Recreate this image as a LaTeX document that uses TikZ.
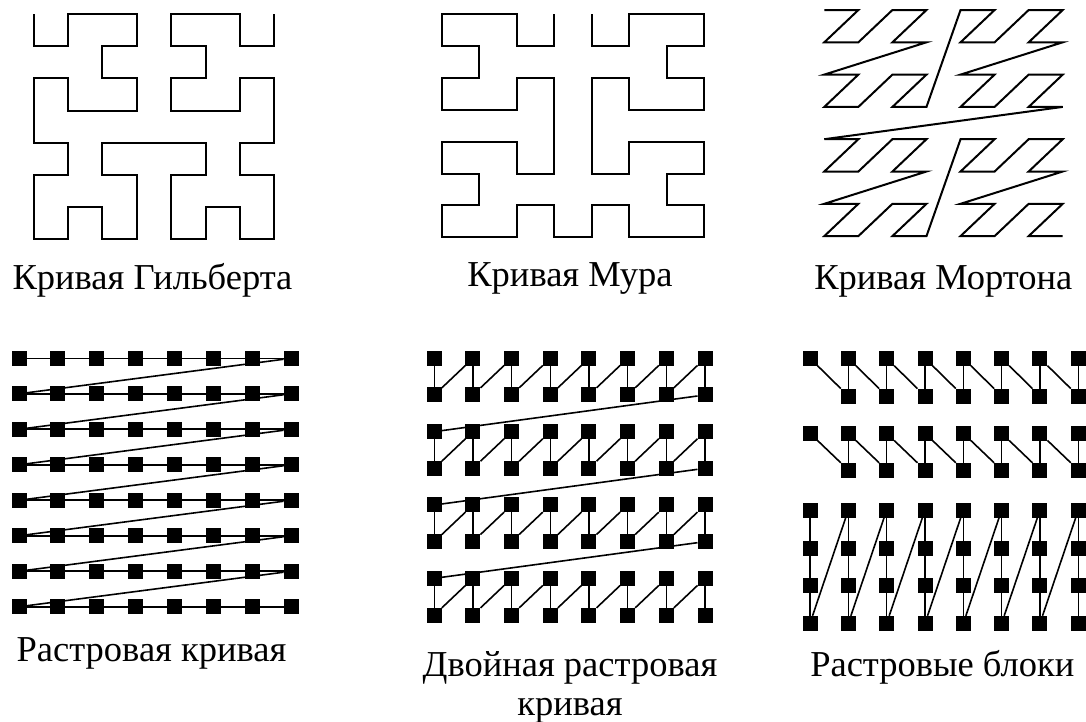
\documentclass[tikz,border=0pt]{standalone}
\usepackage{fontspec}
\setmainfont{Liberation Serif}
\begin{document}
\begin{tikzpicture}[x=1pt,y=-1pt,
  curve/.style={line width=2pt, line join=miter},
  sq/.style={rectangle, fill=black, minimum size=15pt, inner sep=0pt, outer sep=0pt},
  link/.style={line width=1.6pt},
  lab/.style={font=\fontsize{36.5}{38}\selectfont, anchor=base, inner sep=0pt}]
\useasboundingbox (0,0) rectangle (1086,721);

% Hilbert curve
\begin{scope}[shift={(33.5pt,-14pt)}, x=34.4pt, y=-32.2pt]
\draw[curve] (0,0)--(0,1)--(1,1)--(1,0)--(3,0)--(3,1)--(2,1)--(2,2)--(3,2)--(3,3)--(1,3)--(1,2)--(0,2)--(0,4)--(1,4)--(1,5)--(0,5)--(0,7)--(1,7)--(1,6)--(2,6)--(2,7)--(3,7)--(3,5)--(2,5)--(2,4)--(5,4)--(5,5)--(4,5)--(4,7)--(5,7)--(5,6)--(6,6)--(6,7)--(7,7)--(7,5)--(6,5)--(6,4)--(7,4)--(7,2)--(6,2)--(6,3)--(4,3)--(4,2)--(5,2)--(5,1)--(4,1)--(4,0)--(6,0)--(6,1)--(7,1)--(7,0);
\end{scope}

% Moore curve
\begin{scope}[shift={(441.7pt,-14pt)}, x=37.5pt, y=-31.9pt]
\draw[curve] (3,0)--(3,1)--(2,1)--(2,0)--(0,0)--(0,1)--(1,1)--(1,2)--(0,2)--(0,3)--(2,3)--(2,2)--(3,2)--(3,5)--(2,5)--(2,4)--(0,4)--(0,5)--(1,5)--(1,6)--(0,6)--(0,7)--(2,7)--(2,6)--(3,6)--(3,7)--(4,7)--(4,6)--(5,6)--(5,7)--(7,7)--(7,6)--(6,6)--(6,5)--(7,5)--(7,4)--(5,4)--(5,5)--(4,5)--(4,2)--(5,2)--(5,3)--(7,3)--(7,2)--(6,2)--(6,1)--(7,1)--(7,0)--(5,0)--(5,1)--(4,1)--(4,0);
\end{scope}

% Morton curve
\foreach \k in {0,...,63}{
  \pgfmathtruncatemacro\mx{mod(\k,2)+2*mod(floor(\k/4),2)+4*mod(floor(\k/16),2)}
  \pgfmathtruncatemacro\my{mod(floor(\k/2),2)+2*mod(floor(\k/8),2)+4*mod(floor(\k/32),2)}
  \coordinate (m\k) at ({824.3+34.06*\mx},{10+32.3*\my});
}
\draw[curve] (m0) \foreach \k in {1,...,63}{ -- (m\k)};

% raster and double raster nodes
\foreach \i in {0,...,7}{
  \foreach \j in {0,...,7}{
    \node[sq] (r-\i-\j) at ({19+38.86*\i},{358.3+35.49*\j}) {};
    \node[sq] (d-\i-\j) at ({434.3+38.67*\i},{358.3+36.67*\j}) {};
  }
}
% raster block nodes
\foreach \j/\yy in {0/358.3, 2/433.3, 4/510, 5/548.3, 6/585, 7/623.3}{
  \foreach \i in {0,...,7}{
    \node[sq] (b-\i-\j) at ({810+38.33*\i},\yy) {};
  }
}
\foreach \j/\yy in {1/396, 3/470}{
  \foreach \i in {1,...,7}{
    \node[sq] (b-\i-\j) at ({810+38.33*\i},\yy) {};
  }
}

% raster links
\foreach \j in {0,...,7}{
  \foreach \i [count=\n from 1] in {0,...,6}{\draw[link] (r-\i-\j) -- (r-\n-\j);}
}
\foreach \j [count=\n from 1] in {0,...,6}{\draw[link] (r-7-\j) -- (r-0-\n);}

% double raster links
\foreach \t/\u in {0/1, 2/3, 4/5, 6/7}{
  \foreach \i in {0,...,7}{\draw[link] (d-\i-\t) -- (d-\i-\u);}
  \foreach \i [count=\n from 1] in {0,...,6}{\draw[link] (d-\i-\u) -- (d-\n-\t);}
}
\foreach \u/\v in {1/2, 3/4, 5/6}{\draw[link] (d-7-\u) -- (d-0-\v);}

% raster block links
\foreach \t/\u in {0/1, 2/3}{
  \foreach \i [count=\n from 1] in {0,...,6}{\draw[link] (b-\i-\t) -- (b-\n-\u);}
  \foreach \i in {1,...,7}{\draw[link] (b-\i-\u) -- (b-\i-\t);}
}
\foreach \i in {0,...,7}{\draw[link] (b-\i-4) -- (b-\i-5) -- (b-\i-6) -- (b-\i-7);}
\foreach \i [count=\n from 1] in {0,...,6}{\draw[link] (b-\i-7) -- (b-\n-4);}

% labels
\node[lab] (lh) at (152.5,289.5) {Кривая Гильберта};
\node[lab] (lm) at (570,286.7) {Кривая Мура};
\node[lab] (lz) at (943.3,289.3) {Кривая Мортона};
\node[lab] (lr) at (151.5,661.7) {Растровая кривая};
\node[lab] (ld1) at (570,676.7) {Двойная растровая};
\node[lab] (ld2) at (570,715) {кривая};
\node[lab] (lb) at (942.3,676.7) {Растровые блоки};
\end{tikzpicture}
\end{document}
